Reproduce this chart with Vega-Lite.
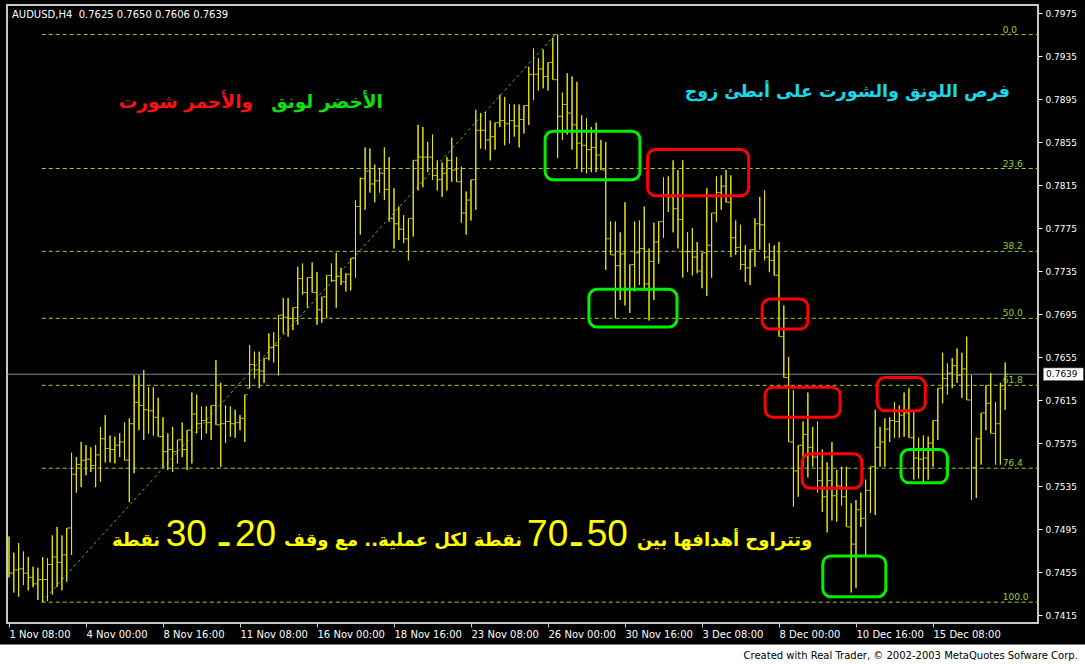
{
"$schema":"https://vega.github.io/schema/vega-lite/v6.json",
"width":1031,"height":618,
"autosize":"none",
"padding":{"left":7,"top":5,"right":47,"bottom":41},
"background":"#000000",
"config":{"view":{"stroke":"#c8c8c8","strokeWidth":2,"fill":"#000000"}},
"datasets":{
"bars":[
{"i":0,"h":0.7488,"l":0.7450,"o":0.7466,"c":0.7454},
{"i":1,"h":0.7473,"l":0.7436,"o":0.7454,"c":0.7457},
{"i":2,"h":0.7482,"l":0.7432,"o":0.7457,"c":0.7458},
{"i":3,"h":0.7474,"l":0.7443,"o":0.7458,"c":0.7454},
{"i":4,"h":0.7469,"l":0.7438,"o":0.7454,"c":0.7450},
{"i":5,"h":0.7460,"l":0.7441,"o":0.7450,"c":0.7444},
{"i":6,"h":0.7459,"l":0.7429,"o":0.7444,"c":0.7448},
{"i":7,"h":0.7469,"l":0.7427,"o":0.7448,"c":0.7448},
{"i":8,"h":0.7468,"l":0.7428,"o":0.7448,"c":0.7462},
{"i":9,"h":0.7489,"l":0.7434,"o":0.7462,"c":0.7469},
{"i":10,"h":0.7497,"l":0.7441,"o":0.7469,"c":0.7464},
{"i":11,"h":0.7489,"l":0.7438,"o":0.7464,"c":0.7471},
{"i":12,"h":0.7496,"l":0.7446,"o":0.7471,"c":0.7496},
{"i":13,"h":0.7566,"l":0.7471,"o":0.7496,"c":0.7546},
{"i":14,"h":0.7562,"l":0.7529,"o":0.7546,"c":0.7555},
{"i":15,"h":0.7576,"l":0.7534,"o":0.7555,"c":0.7559},
{"i":16,"h":0.7573,"l":0.7545,"o":0.7559,"c":0.7560},
{"i":17,"h":0.7571,"l":0.7548,"o":0.7560,"c":0.7554},
{"i":18,"h":0.7573,"l":0.7534,"o":0.7554,"c":0.7564},
{"i":19,"h":0.7590,"l":0.7539,"o":0.7564,"c":0.7579},
{"i":20,"h":0.7601,"l":0.7557,"o":0.7579,"c":0.7570},
{"i":21,"h":0.7582,"l":0.7557,"o":0.7570,"c":0.7569},
{"i":22,"h":0.7581,"l":0.7556,"o":0.7569,"c":0.7573},
{"i":23,"h":0.7584,"l":0.7562,"o":0.7573,"c":0.7576},
{"i":24,"h":0.7594,"l":0.7559,"o":0.7576,"c":0.7559},
{"i":25,"h":0.7598,"l":0.7520,"o":0.7559,"c":0.7593},
{"i":26,"h":0.7638,"l":0.7547,"o":0.7593,"c":0.7613},
{"i":27,"h":0.7638,"l":0.7587,"o":0.7613,"c":0.7610},
{"i":28,"h":0.7643,"l":0.7578,"o":0.7610,"c":0.7606},
{"i":29,"h":0.7627,"l":0.7584,"o":0.7606,"c":0.7605},
{"i":30,"h":0.7627,"l":0.7582,"o":0.7605,"c":0.7599},
{"i":31,"h":0.7617,"l":0.7581,"o":0.7599,"c":0.7581},
{"i":32,"h":0.7599,"l":0.7552,"o":0.7581,"c":0.7567},
{"i":33,"h":0.7584,"l":0.7550,"o":0.7567,"c":0.7569},
{"i":34,"h":0.7590,"l":0.7548,"o":0.7569,"c":0.7567},
{"i":35,"h":0.7578,"l":0.7556,"o":0.7567,"c":0.7578},
{"i":36,"h":0.7594,"l":0.7562,"o":0.7578,"c":0.7569},
{"i":37,"h":0.7587,"l":0.7550,"o":0.7569,"c":0.7587},
{"i":38,"h":0.7622,"l":0.7556,"o":0.7587,"c":0.7602},
{"i":39,"h":0.7620,"l":0.7584,"o":0.7602,"c":0.7593},
{"i":40,"h":0.7609,"l":0.7578,"o":0.7593,"c":0.7596},
{"i":41,"h":0.7609,"l":0.7584,"o":0.7596,"c":0.7594},
{"i":42,"h":0.7610,"l":0.7578,"o":0.7594,"c":0.7610},
{"i":43,"h":0.7652,"l":0.7592,"o":0.7610,"c":0.7592},
{"i":44,"h":0.7631,"l":0.7553,"o":0.7592,"c":0.7593},
{"i":45,"h":0.7610,"l":0.7575,"o":0.7593,"c":0.7595},
{"i":46,"h":0.7609,"l":0.7581,"o":0.7595,"c":0.7593},
{"i":47,"h":0.7606,"l":0.7580,"o":0.7593,"c":0.7594},
{"i":48,"h":0.7601,"l":0.7587,"o":0.7594,"c":0.7598},
{"i":49,"h":0.7620,"l":0.7576,"o":0.7598,"c":0.7620},
{"i":50,"h":0.7666,"l":0.7626,"o":0.7626,"c":0.7648},
{"i":51,"h":0.7660,"l":0.7635,"o":0.7648,"c":0.7643},
{"i":52,"h":0.7660,"l":0.7626,"o":0.7643,"c":0.7642},
{"i":53,"h":0.7654,"l":0.7631,"o":0.7642,"c":0.7654},
{"i":54,"h":0.7677,"l":0.7652,"o":0.7654,"c":0.7664},
{"i":55,"h":0.7678,"l":0.7650,"o":0.7664,"c":0.7666},
{"i":56,"h":0.7694,"l":0.7638,"o":0.7666,"c":0.7694},
{"i":57,"h":0.7710,"l":0.7677,"o":0.7694,"c":0.7692},
{"i":58,"h":0.7710,"l":0.7674,"o":0.7692,"c":0.7691},
{"i":59,"h":0.7701,"l":0.7680,"o":0.7691,"c":0.7701},
{"i":60,"h":0.7739,"l":0.7685,"o":0.7701,"c":0.7728},
{"i":61,"h":0.7742,"l":0.7713,"o":0.7728,"c":0.7715},
{"i":62,"h":0.7729,"l":0.7701,"o":0.7715,"c":0.7729},
{"i":63,"h":0.7743,"l":0.7715,"o":0.7729,"c":0.7715},
{"i":64,"h":0.7734,"l":0.7685,"o":0.7715,"c":0.7699},
{"i":65,"h":0.7711,"l":0.7687,"o":0.7699,"c":0.7711},
{"i":66,"h":0.7731,"l":0.7691,"o":0.7711,"c":0.7731},
{"i":67,"h":0.7742,"l":0.7725,"o":0.7731,"c":0.7726},
{"i":68,"h":0.7752,"l":0.7701,"o":0.7726,"c":0.7730},
{"i":69,"h":0.7738,"l":0.7722,"o":0.7730,"c":0.7725},
{"i":70,"h":0.7733,"l":0.7716,"o":0.7725,"c":0.7732},
{"i":71,"h":0.7747,"l":0.7717,"o":0.7732,"c":0.7747},
{"i":72,"h":0.7801,"l":0.7729,"o":0.7747,"c":0.7795},
{"i":73,"h":0.7822,"l":0.7769,"o":0.7795,"c":0.7821},
{"i":74,"h":0.7850,"l":0.7792,"o":0.7821,"c":0.7828},
{"i":75,"h":0.7849,"l":0.7808,"o":0.7828,"c":0.7816},
{"i":76,"h":0.7834,"l":0.7799,"o":0.7816,"c":0.7819},
{"i":77,"h":0.7831,"l":0.7808,"o":0.7819,"c":0.7826},
{"i":78,"h":0.7850,"l":0.7801,"o":0.7826,"c":0.7811},
{"i":79,"h":0.7841,"l":0.7781,"o":0.7811,"c":0.7784},
{"i":80,"h":0.7812,"l":0.7756,"o":0.7784,"c":0.7779},
{"i":81,"h":0.7795,"l":0.7764,"o":0.7779,"c":0.7774},
{"i":82,"h":0.7787,"l":0.7761,"o":0.7774,"c":0.7765},
{"i":83,"h":0.7784,"l":0.7745,"o":0.7765,"c":0.7784},
{"i":84,"h":0.7838,"l":0.7767,"o":0.7784,"c":0.7838},
{"i":85,"h":0.7871,"l":0.7810,"o":0.7838,"c":0.7841},
{"i":86,"h":0.7869,"l":0.7813,"o":0.7841,"c":0.7841},
{"i":87,"h":0.7855,"l":0.7827,"o":0.7841,"c":0.7841},
{"i":88,"h":0.7862,"l":0.7820,"o":0.7841,"c":0.7824},
{"i":89,"h":0.7838,"l":0.7810,"o":0.7824,"c":0.7820},
{"i":90,"h":0.7836,"l":0.7804,"o":0.7820,"c":0.7826},
{"i":91,"h":0.7841,"l":0.7810,"o":0.7826,"c":0.7838},
{"i":92,"h":0.7859,"l":0.7818,"o":0.7838,"c":0.7829},
{"i":93,"h":0.7841,"l":0.7818,"o":0.7829,"c":0.7818},
{"i":94,"h":0.7832,"l":0.7780,"o":0.7818,"c":0.7789},
{"i":95,"h":0.7809,"l":0.7769,"o":0.7789,"c":0.7801},
{"i":96,"h":0.7820,"l":0.7782,"o":0.7801,"c":0.7820},
{"i":97,"h":0.7885,"l":0.7792,"o":0.7820,"c":0.7866},
{"i":98,"h":0.7882,"l":0.7849,"o":0.7866,"c":0.7866},
{"i":99,"h":0.7883,"l":0.7848,"o":0.7866,"c":0.7857},
{"i":100,"h":0.7875,"l":0.7838,"o":0.7857,"c":0.7860},
{"i":101,"h":0.7873,"l":0.7848,"o":0.7860,"c":0.7873},
{"i":102,"h":0.7899,"l":0.7869,"o":0.7873,"c":0.7875},
{"i":103,"h":0.7897,"l":0.7852,"o":0.7875,"c":0.7872},
{"i":104,"h":0.7890,"l":0.7854,"o":0.7872,"c":0.7875},
{"i":105,"h":0.7890,"l":0.7860,"o":0.7875,"c":0.7870},
{"i":106,"h":0.7890,"l":0.7850,"o":0.7870,"c":0.7876},
{"i":107,"h":0.7889,"l":0.7863,"o":0.7876,"c":0.7889},
{"i":108,"h":0.7925,"l":0.7871,"o":0.7889,"c":0.7918},
{"i":109,"h":0.7942,"l":0.7894,"o":0.7918,"c":0.7918},
{"i":110,"h":0.7933,"l":0.7903,"o":0.7918,"c":0.7923},
{"i":111,"h":0.7941,"l":0.7905,"o":0.7923,"c":0.7916},
{"i":112,"h":0.7929,"l":0.7903,"o":0.7916,"c":0.7929},
{"i":113,"h":0.7952,"l":0.7913,"o":0.7929,"c":0.7913},
{"i":114,"h":0.7955,"l":0.7840,"o":0.7913,"c":0.7879},
{"i":115,"h":0.7901,"l":0.7857,"o":0.7879,"c":0.7890},
{"i":116,"h":0.7919,"l":0.7862,"o":0.7890,"c":0.7882},
{"i":117,"h":0.7916,"l":0.7848,"o":0.7882,"c":0.7871},
{"i":118,"h":0.7911,"l":0.7831,"o":0.7871,"c":0.7854},
{"i":119,"h":0.7880,"l":0.7827,"o":0.7854,"c":0.7852},
{"i":120,"h":0.7877,"l":0.7826,"o":0.7852,"c":0.7848},
{"i":121,"h":0.7869,"l":0.7827,"o":0.7848,"c":0.7850},
{"i":122,"h":0.7873,"l":0.7827,"o":0.7850,"c":0.7843},
{"i":123,"h":0.7857,"l":0.7829,"o":0.7843,"c":0.7829},
{"i":124,"h":0.7855,"l":0.7736,"o":0.7829,"c":0.7765},
{"i":125,"h":0.7781,"l":0.7750,"o":0.7765,"c":0.7750},
{"i":126,"h":0.7781,"l":0.7691,"o":0.7750,"c":0.7740},
{"i":127,"h":0.7771,"l":0.7708,"o":0.7740,"c":0.7751},
{"i":128,"h":0.7799,"l":0.7703,"o":0.7751,"c":0.7718},
{"i":129,"h":0.7741,"l":0.7696,"o":0.7718,"c":0.7741},
{"i":130,"h":0.7781,"l":0.7716,"o":0.7741,"c":0.7752},
{"i":131,"h":0.7782,"l":0.7722,"o":0.7752,"c":0.7756},
{"i":132,"h":0.7795,"l":0.7717,"o":0.7756,"c":0.7723},
{"i":133,"h":0.7756,"l":0.7689,"o":0.7723,"c":0.7744},
{"i":134,"h":0.7780,"l":0.7708,"o":0.7744,"c":0.7762},
{"i":135,"h":0.7781,"l":0.7742,"o":0.7762,"c":0.7781},
{"i":136,"h":0.7822,"l":0.7766,"o":0.7781,"c":0.7806},
{"i":137,"h":0.7823,"l":0.7790,"o":0.7806,"c":0.7804},
{"i":138,"h":0.7838,"l":0.7771,"o":0.7804,"c":0.7793},
{"i":139,"h":0.7829,"l":0.7756,"o":0.7793,"c":0.7783},
{"i":140,"h":0.7838,"l":0.7729,"o":0.7783,"c":0.7753},
{"i":141,"h":0.7771,"l":0.7734,"o":0.7753,"c":0.7753},
{"i":142,"h":0.7775,"l":0.7731,"o":0.7753,"c":0.7748},
{"i":143,"h":0.7762,"l":0.7733,"o":0.7748,"c":0.7735},
{"i":144,"h":0.7752,"l":0.7719,"o":0.7735,"c":0.7752},
{"i":145,"h":0.7812,"l":0.7712,"o":0.7752,"c":0.7759},
{"i":146,"h":0.7789,"l":0.7729,"o":0.7759,"c":0.7789},
{"i":147,"h":0.7823,"l":0.7781,"o":0.7789,"c":0.7808},
{"i":148,"h":0.7824,"l":0.7792,"o":0.7808,"c":0.7814},
{"i":149,"h":0.7829,"l":0.7799,"o":0.7814,"c":0.7799},
{"i":150,"h":0.7824,"l":0.7748,"o":0.7799,"c":0.7766},
{"i":151,"h":0.7782,"l":0.7750,"o":0.7766,"c":0.7757},
{"i":152,"h":0.7778,"l":0.7736,"o":0.7757,"c":0.7741},
{"i":153,"h":0.7759,"l":0.7725,"o":0.7741,"c":0.7738},
{"i":154,"h":0.7755,"l":0.7722,"o":0.7738,"c":0.7755},
{"i":155,"h":0.7784,"l":0.7739,"o":0.7755,"c":0.7779},
{"i":156,"h":0.7804,"l":0.7755,"o":0.7779,"c":0.7778},
{"i":157,"h":0.7810,"l":0.7745,"o":0.7778,"c":0.7748},
{"i":158,"h":0.7761,"l":0.7734,"o":0.7748,"c":0.7745},
{"i":159,"h":0.7759,"l":0.7731,"o":0.7745,"c":0.7731},
{"i":160,"h":0.7762,"l":0.7674,"o":0.7731,"c":0.7674},
{"i":161,"h":0.7703,"l":0.7636,"o":0.7674,"c":0.7636},
{"i":162,"h":0.7655,"l":0.7576,"o":0.7636,"c":0.7576},
{"i":163,"h":0.7624,"l":0.7516,"o":0.7576,"c":0.7549},
{"i":164,"h":0.7573,"l":0.7525,"o":0.7549,"c":0.7573},
{"i":165,"h":0.7595,"l":0.7552,"o":0.7573,"c":0.7583},
{"i":166,"h":0.7622,"l":0.7543,"o":0.7583,"c":0.7571},
{"i":167,"h":0.7590,"l":0.7553,"o":0.7571,"c":0.7562},
{"i":168,"h":0.7595,"l":0.7529,"o":0.7562,"c":0.7540},
{"i":169,"h":0.7569,"l":0.7511,"o":0.7540,"c":0.7525},
{"i":170,"h":0.7557,"l":0.7492,"o":0.7525,"c":0.7540},
{"i":171,"h":0.7576,"l":0.7503,"o":0.7540,"c":0.7526},
{"i":172,"h":0.7550,"l":0.7502,"o":0.7526,"c":0.7535},
{"i":173,"h":0.7553,"l":0.7517,"o":0.7535,"c":0.7525},
{"i":174,"h":0.7553,"l":0.7497,"o":0.7525,"c":0.7497},
{"i":175,"h":0.7519,"l":0.7436,"o":0.7497,"c":0.7481},
{"i":176,"h":0.7522,"l":0.7440,"o":0.7481,"c":0.7513},
{"i":177,"h":0.7529,"l":0.7497,"o":0.7513,"c":0.7505},
{"i":178,"h":0.7541,"l":0.7469,"o":0.7505,"c":0.7531},
{"i":179,"h":0.7553,"l":0.7510,"o":0.7531,"c":0.7553},
{"i":180,"h":0.7606,"l":0.7508,"o":0.7553,"c":0.7571},
{"i":181,"h":0.7590,"l":0.7553,"o":0.7571,"c":0.7576},
{"i":182,"h":0.7598,"l":0.7553,"o":0.7576,"c":0.7588},
{"i":183,"h":0.7599,"l":0.7576,"o":0.7588,"c":0.7596},
{"i":184,"h":0.7613,"l":0.7580,"o":0.7596,"c":0.7595},
{"i":185,"h":0.7610,"l":0.7580,"o":0.7595,"c":0.7601},
{"i":186,"h":0.7622,"l":0.7581,"o":0.7601,"c":0.7603},
{"i":187,"h":0.7626,"l":0.7580,"o":0.7603,"c":0.7580},
{"i":188,"h":0.7604,"l":0.7541,"o":0.7580,"c":0.7561},
{"i":189,"h":0.7580,"l":0.7542,"o":0.7561,"c":0.7560},
{"i":190,"h":0.7582,"l":0.7538,"o":0.7560,"c":0.7561},
{"i":191,"h":0.7581,"l":0.7541,"o":0.7561,"c":0.7575},
{"i":192,"h":0.7596,"l":0.7553,"o":0.7575,"c":0.7596},
{"i":193,"h":0.7626,"l":0.7578,"o":0.7596,"c":0.7626},
{"i":194,"h":0.7659,"l":0.7612,"o":0.7626,"c":0.7635},
{"i":195,"h":0.7649,"l":0.7620,"o":0.7635,"c":0.7640},
{"i":196,"h":0.7654,"l":0.7626,"o":0.7640,"c":0.7647},
{"i":197,"h":0.7663,"l":0.7631,"o":0.7647,"c":0.7638},
{"i":198,"h":0.7659,"l":0.7617,"o":0.7638,"c":0.7644},
{"i":199,"h":0.7674,"l":0.7615,"o":0.7644,"c":0.7615},
{"i":200,"h":0.7638,"l":0.7522,"o":0.7615,"c":0.7552},
{"i":201,"h":0.7580,"l":0.7524,"o":0.7552,"c":0.7579},
{"i":202,"h":0.7603,"l":0.7555,"o":0.7579,"c":0.7603},
{"i":203,"h":0.7629,"l":0.7587,"o":0.7603,"c":0.7612},
{"i":204,"h":0.7640,"l":0.7584,"o":0.7612,"c":0.7584},
{"i":205,"h":0.7613,"l":0.7555,"o":0.7584,"c":0.7593},
{"i":206,"h":0.7631,"l":0.7555,"o":0.7593,"c":0.7628},
{"i":207,"h":0.7650,"l":0.7606,"o":0.7625,"c":0.7639}
],
"fib":[
{"lvl":"0.0","p":0.7955},
{"lvl":"23.6","p":0.78304},
{"lvl":"38.2","p":0.77533},
{"lvl":"50.0","p":0.7691},
{"lvl":"61.8","p":0.76287},
{"lvl":"76.4","p":0.75516},
{"lvl":"100.0","p":0.7427}
]
},
"layer":[
{"data":{"name":"bars"},"mark":{"type":"rule","color":"#e6e600","strokeWidth":1},
 "encoding":{
  "x":{"field":"i","type":"quantitative","scale":{"domain":[-0.4156,213.82],"nice":false,"zero":false},
   "axis":{"values":[0,16,32,48,64,80,96,112,128,144,160,176,192],
    "labelExpr":"['1 Nov 08:00','4 Nov 00:00','8 Nov 16:00','11 Nov 08:00','16 Nov 00:00','18 Nov 16:00','23 Nov 08:00','26 Nov 00:00','30 Nov 16:00','3 Dec 08:00','8 Dec 00:00','10 Dec 16:00','15 Dec 08:00'][round(datum.value/16)]",
    "labelAlign":"left","labelBaseline":"top","labelPadding":2,"labelFlush":false,"labelOverlap":false,"labelBound":false,
    "tickSize":4,"tickColor":"#c8c8c8","labelColor":"#ffffff","labelFont":"DejaVu Sans","labelFontSize":10,
    "domain":false,"grid":false,"title":null}},
  "y":{"field":"l","type":"quantitative","scale":{"domain":[0.74076,0.79825],"nice":false,"zero":false},
   "axis":{"orient":"right","values":[0.7415,0.7455,0.7495,0.7535,0.7575,0.7615,0.7655,0.7695,0.7735,0.7775,0.7815,0.7855,0.7895,0.7935,0.7975],
    "format":".4f","labelAlign":"left","labelBaseline":"middle","labelPadding":3,"labelFlush":false,"labelOverlap":false,"labelBound":false,
    "tickSize":4,"tickColor":"#ffffff","labelColor":"#ffffff","labelFont":"DejaVu Sans","labelFontSize":9,
    "domain":false,"grid":false,"title":null}},
  "y2":{"field":"h"}}},
{"data":{"name":"fib"},"mark":{"type":"rule","color":"#9acd32","strokeWidth":1,"strokeDash":[4,3]},
 "encoding":{"x":{"datum":6.8,"type":"quantitative"},"x2":{"datum":213.82},"y":{"field":"p","type":"quantitative","title":null}}},
{"data":{"values":[{}]},"mark":{"type":"rule","color":"#778899","strokeWidth":1},
 "encoding":{"x":{"datum":-0.4156,"type":"quantitative"},"x2":{"datum":213.82},"y":{"datum":0.7639,"type":"quantitative"}}},
{"data":{"values":[{}]},"mark":{"type":"rule","color":"#5fae10","strokeWidth":1,"strokeDash":[3,3]},
 "encoding":{"x":{"datum":6.8,"type":"quantitative"},"x2":{"datum":113.5},"y":{"datum":0.7427,"type":"quantitative"},"y2":{"datum":0.7955}}},
{"data":{"name":"bars"},"mark":{"type":"rule","color":"#e6e600","strokeWidth":1},
 "encoding":{"x":{"field":"i","type":"quantitative","title":null},"y":{"field":"l","type":"quantitative","title":null},"y2":{"field":"h"}}},
{"data":{"name":"bars"},"mark":{"type":"tick","orient":"horizontal","color":"#e6e600","size":2.5,"thickness":1,"xOffset":-1.5},
 "encoding":{"x":{"field":"i","type":"quantitative","title":null},"y":{"field":"o","type":"quantitative","title":null}}},
{"data":{"name":"bars"},"mark":{"type":"tick","orient":"horizontal","color":"#e6e600","size":2.5,"thickness":1,"xOffset":1.5},
 "encoding":{"x":{"field":"i","type":"quantitative","title":null},"y":{"field":"c","type":"quantitative","title":null}}},
{"data":{"values":[{}]},"mark":{"type":"rect","filled":false,"stroke":"#00f000","strokeWidth":3,"cornerRadius":8},
 "encoding":{"x":{"datum":111.4,"type":"quantitative"},"x2":{"datum":131.1},"y":{"datum":0.7865,"type":"quantitative"},"y2":{"datum":0.7820}}},
{"data":{"values":[{}]},"mark":{"type":"rect","filled":false,"stroke":"#00f000","strokeWidth":3,"cornerRadius":8},
 "encoding":{"x":{"datum":120.5,"type":"quantitative"},"x2":{"datum":138.8},"y":{"datum":0.7718,"type":"quantitative"},"y2":{"datum":0.7683}}},
{"data":{"values":[{}]},"mark":{"type":"rect","filled":false,"stroke":"#00f000","strokeWidth":3,"cornerRadius":8},
 "encoding":{"x":{"datum":169.1,"type":"quantitative"},"x2":{"datum":182.2},"y":{"datum":0.7470,"type":"quantitative"},"y2":{"datum":0.7432}}},
{"data":{"values":[{}]},"mark":{"type":"rect","filled":false,"stroke":"#00f000","strokeWidth":3,"cornerRadius":8},
 "encoding":{"x":{"datum":185.35,"type":"quantitative"},"x2":{"datum":195.0},"y":{"datum":0.7569,"type":"quantitative"},"y2":{"datum":0.7538}}},
{"data":{"values":[{}]},"mark":{"type":"rect","filled":false,"stroke":"#ff0000","strokeWidth":3,"cornerRadius":8},
 "encoding":{"x":{"datum":132.7,"type":"quantitative"},"x2":{"datum":153.7},"y":{"datum":0.7848,"type":"quantitative"},"y2":{"datum":0.7805}}},
{"data":{"values":[{}]},"mark":{"type":"rect","filled":false,"stroke":"#ff0000","strokeWidth":3,"cornerRadius":8},
 "encoding":{"x":{"datum":156.5,"type":"quantitative"},"x2":{"datum":166.0},"y":{"datum":0.7709,"type":"quantitative"},"y2":{"datum":0.7681}}},
{"data":{"values":[{}]},"mark":{"type":"rect","filled":false,"stroke":"#ff0000","strokeWidth":3,"cornerRadius":8},
 "encoding":{"x":{"datum":157.1,"type":"quantitative"},"x2":{"datum":172.7},"y":{"datum":0.7627,"type":"quantitative"},"y2":{"datum":0.7599}}},
{"data":{"values":[{}]},"mark":{"type":"rect","filled":false,"stroke":"#ff0000","strokeWidth":3,"cornerRadius":8},
 "encoding":{"x":{"datum":164.8,"type":"quantitative"},"x2":{"datum":177.2},"y":{"datum":0.7565,"type":"quantitative"},"y2":{"datum":0.7533}}},
{"data":{"values":[{}]},"mark":{"type":"rect","filled":false,"stroke":"#ff0000","strokeWidth":3,"cornerRadius":8},
 "encoding":{"x":{"datum":180.4,"type":"quantitative"},"x2":{"datum":190.4},"y":{"datum":0.7636,"type":"quantitative"},"y2":{"datum":0.7605}}},
{"data":{"name":"fib"},"mark":{"type":"text","color":"#9acd32","font":"DejaVu Sans","fontSize":9,"align":"left","baseline":"alphabetic","dy":-2},
 "encoding":{"x":{"datum":206.5,"type":"quantitative"},"y":{"field":"p","type":"quantitative","title":null},"text":{"field":"lvl","type":"nominal"}}},
{"data":{"values":[{}]},"mark":{"type":"text","text":"AUDUSD,H4\u00a0 0.7625 0.7650 0.7606 0.7639","color":"#ffffff","font":"DejaVu Sans","fontSize":10,"align":"left","baseline":"alphabetic"},
 "encoding":{"x":{"datum":0.62,"type":"quantitative"},"y":{"datum":0.79701,"type":"quantitative"}}},
{"data":{"values":[{}]},"mark":{"type":"text","text":"والأحمر شورت","color":"#ff1010","font":"DejaVu Sans","fontWeight":"bold","fontSize":18.5,"align":"right","baseline":"alphabetic"},
 "encoding":{"x":{"datum":50.7,"type":"quantitative"},"y":{"datum":0.78867,"type":"quantitative"}}},
{"data":{"values":[{}]},"mark":{"type":"text","text":"الأخضر لونق","color":"#10e010","font":"DejaVu Sans","fontWeight":"bold","fontSize":18.5,"align":"right","baseline":"alphabetic"},
 "encoding":{"x":{"datum":77.7,"type":"quantitative"},"y":{"datum":0.78867,"type":"quantitative"}}},
{"data":{"values":[{}]},"mark":{"type":"text","text":"فرص اللونق والشورت على أبطئ زوج","color":"#1ad8e8","font":"DejaVu Sans","fontWeight":"bold","fontSize":17.5,"align":"right","baseline":"alphabetic"},
 "encoding":{"x":{"datum":208.0,"type":"quantitative"},"y":{"datum":0.7897,"type":"quantitative"}}},
{"data":{"values":[{}]},"mark":{"type":"text","text":"وتتراوح أهدافها بين","color":"#ffff00","font":"DejaVu Sans","fontWeight":"bold","fontSize":18,"align":"right","baseline":"alphabetic"},
 "encoding":{"x":{"datum":166.9,"type":"quantitative"},"y":{"datum":0.7479,"type":"quantitative"}}},
{"data":{"values":[{}]},"mark":{"type":"text","text":"50","color":"#ffff00","font":"Liberation Sans","fontSize":37,"align":"right","baseline":"alphabetic"},
 "encoding":{"x":{"datum":128.6,"type":"quantitative"},"y":{"datum":0.7479,"type":"quantitative"}}},
{"data":{"values":[{}]},"mark":{"type":"text","text":"ـ","color":"#ffff00","font":"DejaVu Sans","fontWeight":"bold","fontSize":30,"align":"center","baseline":"alphabetic"},
 "encoding":{"x":{"datum":117.9,"type":"quantitative"},"y":{"datum":0.7479,"type":"quantitative"}}},
{"data":{"values":[{}]},"mark":{"type":"text","text":"70","color":"#ffff00","font":"Liberation Sans","fontSize":37,"align":"right","baseline":"alphabetic"},
 "encoding":{"x":{"datum":116.2,"type":"quantitative"},"y":{"datum":0.7479,"type":"quantitative"}}},
{"data":{"values":[{}]},"mark":{"type":"text","text":"نقطة لكل عملية.. مع وقف","color":"#ffff00","font":"DejaVu Sans","fontWeight":"bold","fontSize":18,"align":"right","baseline":"alphabetic"},
 "encoding":{"x":{"datum":106.6,"type":"quantitative"},"y":{"datum":0.7479,"type":"quantitative"}}},
{"data":{"values":[{}]},"mark":{"type":"text","text":"20","color":"#ffff00","font":"Liberation Sans","fontSize":37,"align":"right","baseline":"alphabetic"},
 "encoding":{"x":{"datum":55.5,"type":"quantitative"},"y":{"datum":0.7479,"type":"quantitative"}}},
{"data":{"values":[{}]},"mark":{"type":"text","text":"ـ","color":"#ffff00","font":"DejaVu Sans","fontWeight":"bold","fontSize":30,"align":"center","baseline":"alphabetic"},
 "encoding":{"x":{"datum":44.7,"type":"quantitative"},"y":{"datum":0.7479,"type":"quantitative"}}},
{"data":{"values":[{}]},"mark":{"type":"text","text":"30","color":"#ffff00","font":"Liberation Sans","fontSize":37,"align":"right","baseline":"alphabetic"},
 "encoding":{"x":{"datum":41.1,"type":"quantitative"},"y":{"datum":0.7479,"type":"quantitative"}}},
{"data":{"values":[{}]},"mark":{"type":"text","text":"نقطة","color":"#ffff00","font":"DejaVu Sans","fontWeight":"bold","fontSize":18,"align":"right","baseline":"alphabetic"},
 "encoding":{"x":{"datum":31.4,"type":"quantitative"},"y":{"datum":0.7479,"type":"quantitative"}}},
{"data":{"values":[{}]},"mark":{"type":"rect","fill":"#ffffff","stroke":"#000000","strokeWidth":0.5},
 "encoding":{"x":{"datum":214.9,"type":"quantitative"},"x2":{"datum":223.3},"y":{"datum":0.7645,"type":"quantitative"},"y2":{"datum":0.7633}}},
{"data":{"values":[{}]},"mark":{"type":"text","text":"0.7639","color":"#000000","font":"DejaVu Sans","fontSize":9,"align":"left","baseline":"middle"},
 "encoding":{"x":{"datum":215.5,"type":"quantitative"},"y":{"datum":0.7639,"type":"quantitative"}}},
{"data":{"values":[{}]},"mark":{"type":"rect","fill":"#ffffff"},
 "encoding":{"x":{"datum":-10,"type":"quantitative"},"x2":{"datum":240},"y":{"datum":0.73876,"type":"quantitative"},"y2":{"datum":0.72}}},
{"data":{"values":[{}]},"mark":{"type":"text","text":"Created with Real Trader, © 2002-2003 MetaQuotes Sofware Corp.","color":"#000000","font":"DejaVu Sans","fontSize":10,"align":"right","baseline":"alphabetic"},
 "encoding":{"x":{"datum":222.1,"type":"quantitative"},"y":{"datum":0.73741,"type":"quantitative"}}}
]
}
